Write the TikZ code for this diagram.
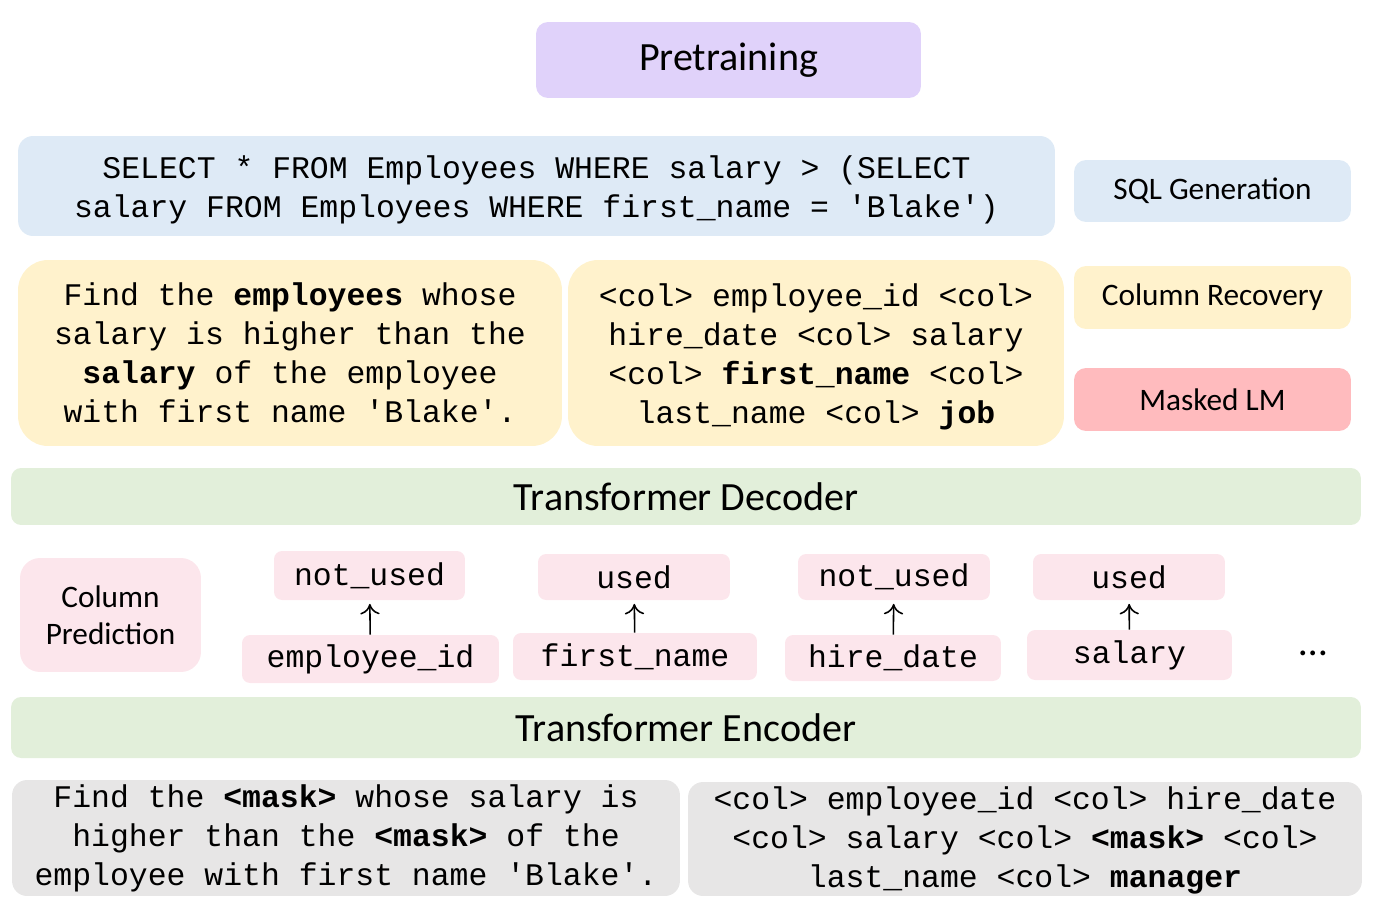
\documentclass[tikz,border=0pt]{standalone}
\usepackage{fontspec}
\setmainfont{Carlito}
\setmonofont{Liberation Mono}
\usetikzlibrary{arrows.meta}
\definecolor{prebg}{HTML}{E0D2FA}
\definecolor{sqlbg}{HTML}{DEEAF6}
\definecolor{colbg}{HTML}{FFF2CC}
\definecolor{mlmbg}{HTML}{FFBBBE}
\definecolor{trfbg}{HTML}{E2EFDA}
\definecolor{predbg}{HTML}{FCE6EC}
\definecolor{inbg}{HTML}{E7E6E6}
\newcommand{\codetxt}{\ttfamily\fontsize{17.9}{22.2}\selectfont}
\newcommand{\bigtxt}{\fontsize{22.8}{27}\selectfont}
\newcommand{\smalltxt}{\fontsize{17.8}{21}\selectfont}
\tikzset{
        textbox/.style={inner sep=0pt, align=center, rounded corners=0.3cm, font=\codetxt},
        tagbox/.style={inner sep=0pt, align=center, rounded corners=0.24cm, font=\smalltxt},
        labbox/.style={inner sep=0pt, align=center, rounded corners=0.16cm, fill=predbg, font=\codetxt},
        layer/.style={inner sep=0pt, align=center, rounded corners=0.2cm, fill=trfbg, minimum width=27cm, font=\bigtxt},
        pred/.style={->, >={To[length=6pt, width=11pt]}, line width=0.9pt, shorten >=2pt}
}
\begin{document}
\begin{tikzpicture}[x=0.02cm, y=-0.02cm]
        \useasboundingbox (0,0) rectangle (1373,906);
        \node[tagbox, fill=prebg, minimum width=7.7cm, minimum height=1.52cm, font=\bigtxt] (pre) at (728.5,60) {Pretraining};

        \node[textbox, fill=sqlbg, minimum width=20.74cm, minimum height=2cm] (sql) at (536.5,186) {};
        \node[font=\codetxt, align=center] (sqltxt) at (536.5,190)
                {SELECT * FROM Employees WHERE salary > (SELECT\\salary FROM Employees WHERE first\_name = 'Blake')};
        \node[tagbox, fill=sqlbg, minimum width=5.54cm, minimum height=1.24cm] (sqlgen) at (1212.5,191) {SQL Generation};

        \node[textbox, fill=colbg, rounded corners=0.6cm, minimum width=10.88cm, minimum height=3.72cm] (nl) at (290,353)
                {Find the \textbf{employees} whose\\salary is higher than the\\\textbf{salary} of the employee\\with first name 'Blake'.};
        \node[textbox, fill=colbg, rounded corners=0.6cm, minimum width=9.92cm, minimum height=3.72cm] (schema) at (816,353) {};
        \node[font=\codetxt, align=center] (schematxt) at (816,357)
                {<col> employee\_id <col>\\hire\_date <col> salary\\<col> \textbf{first\_name} <col>\\last\_name <col> \textbf{job}};
        \node[tagbox, fill=colbg, minimum width=5.54cm, minimum height=1.26cm] (colrec) at (1212.5,297.5) {Column Recovery};
        \node[tagbox, fill=mlmbg, minimum width=5.54cm, minimum height=1.26cm] (mlm) at (1212.5,399.5) {Masked LM};

        \node[layer, minimum height=1.14cm] (dec) at (686,496.5) {Transformer Decoder};

        \node[tagbox, fill=predbg, rounded corners=0.4cm, minimum width=3.62cm, minimum height=2.28cm] (colpred) at (110.5,615) {Column\\Prediction};
        \node[labbox, minimum width=3.82cm, minimum height=0.98cm] (lbl1) at (369.5,575.5) {not\_used};
        \node[labbox, minimum width=3.84cm, minimum height=0.92cm] (lbl2) at (634,577) {used};
        \node[labbox, minimum width=3.84cm, minimum height=0.92cm] (lbl3) at (894,577) {not\_used};
        \node[labbox, minimum width=3.84cm, minimum height=0.92cm] (lbl4) at (1129,577) {used};
        \node[labbox, minimum width=5.14cm, minimum height=0.96cm] (col1) at (370.5,659) {employee\_id};
        \node[labbox, minimum width=4.88cm, minimum height=0.94cm] (col2) at (635,656.5) {first\_name};
        \node[labbox, minimum width=4.32cm, minimum height=0.92cm] (col3) at (893,658) {hire\_date};
        \node[labbox, minimum width=4.10cm, minimum height=1.00cm] (col4) at (1129.5,655) {salary};
        \node[font=\bigtxt] (dots) at (1313,653) {\dots};
        \draw[pred] (col1) -- (lbl1);
        \draw[pred] (col2) -- (lbl2);
        \draw[pred] (col3) -- (lbl3);
        \draw[pred] (col4) -- (lbl4);

        \node[layer, minimum height=1.22cm] (enc) at (686,727.5) {Transformer Encoder};

        \node[textbox, fill=inbg, minimum width=13.36cm, minimum height=2.32cm] (q) at (346,838)
                {Find the \textbf{<mask>} whose salary is\\higher than the \textbf{<mask>} of the\\employee with first name 'Blake'.};
        \node[textbox, fill=inbg, minimum width=13.48cm, minimum height=2.28cm] (s) at (1025,839) {};
        \node[font=\codetxt, align=center] (stxt) at (1025,840)
                {<col> employee\_id <col> hire\_date\\<col> salary <col> \textbf{<mask>} <col>\\last\_name <col> \textbf{manager}};
\end{tikzpicture}
\end{document}
